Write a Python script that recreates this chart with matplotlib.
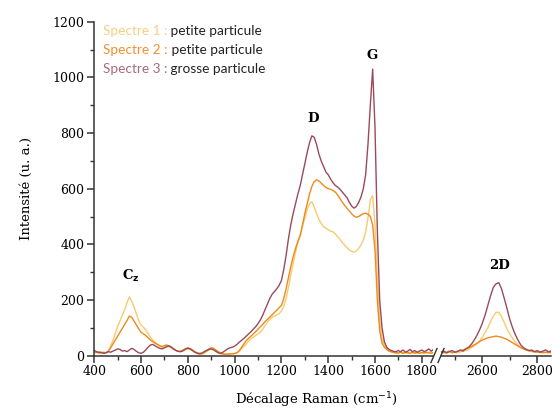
import numpy as np
import matplotlib
matplotlib.use("Agg")
import matplotlib.pyplot as plt
from matplotlib.ticker import MultipleLocator

# Raman shift, left part of the broken axis (cm-1)
wn_left = np.arange(400, 1860, 10)
# Raman shift, right part (2D band)
wn_right = np.arange(2450, 2860, 10)

s1_left = [14, 12, 9, 11, 8, 10, 15, 35, 55, 80,
           105, 125, 145, 165, 190, 211, 195, 175, 150, 125,
           110, 102, 92, 80, 66, 56, 48, 40, 33, 30,
           30, 34, 32, 28, 22, 18, 15, 14, 16, 20,
           24, 22, 18, 12, 8, 6, 5, 8, 14, 20,
           24, 22, 16, 10, 6, 5, 4, 5, 6, 7,
           8, 10, 16, 25, 33, 42, 52, 60, 66, 72,
           78, 84, 95, 108, 120, 130, 137, 142, 146, 150,
           160, 178, 205, 245, 290, 330, 370, 405, 435, 465,
           495, 525, 545, 553, 535, 510, 490, 475, 463, 458,
           452, 448, 445, 438, 428, 418, 407, 398, 388, 380,
           375, 372, 376, 385, 398, 415, 445, 495, 560, 575,
           470, 280, 130, 65, 38, 25, 18, 14, 12, 10,
           10, 12, 8, 11, 9, 12, 10, 8, 11, 9,
           10, 12, 9, 11, 13, 10]
s2_left = [12, 10, 14, 9, 12, 10, 16, 28, 42, 56,
           70, 84, 98, 112, 126, 142, 138, 124, 110, 96,
           84, 78, 72, 64, 56, 50, 44, 40, 36, 32,
           36, 38, 34, 28, 22, 18, 15, 16, 20, 24,
           28, 25, 20, 14, 10, 8, 9, 12, 18, 24,
           28, 26, 20, 14, 9, 6, 5, 5, 6, 6,
           7, 10, 18, 30, 42, 54, 62, 70, 78, 86,
           95, 104, 112, 122, 130, 138, 146, 155, 163, 172,
           180, 205, 240, 280, 320, 355, 385, 410, 430, 470,
           510, 545, 580, 608, 625, 632, 628, 620, 612, 605,
           600, 598, 594, 588, 578, 565, 552, 540, 530, 520,
           510, 502, 497, 500, 505, 510, 512, 508, 500, 470,
           380, 200, 90, 45, 30, 22, 16, 13, 11, 10,
           9, 12, 8, 11, 10, 8, 12, 9, 11, 8,
           11, 9, 12, 10, 8, 11]
s3_left = [18, 14, 10, 12, 8, 10, 14, 12, 16, 20,
           24, 22, 16, 18, 14, 20, 26, 22, 15, 10,
           8, 12, 20, 30, 38, 40, 35, 30, 26, 24,
           28, 32, 35, 30, 24, 18, 15, 14, 18, 24,
           26, 24, 18, 12, 8, 6, 8, 14, 18, 22,
           24, 20, 15, 10, 8, 12, 18, 24, 28, 30,
           34, 40, 48, 55, 62, 70, 78, 86, 95, 104,
           115, 128, 145, 165, 185, 205, 220, 230, 240, 252,
           270, 310, 360, 420, 470, 510, 545, 580, 610, 650,
           690, 730, 765, 790, 785, 760, 725, 700, 680, 660,
           650, 635, 622, 612, 606, 598, 588, 578, 568, 552,
           538, 530, 536, 550, 570, 600, 650, 760, 900, 1030,
           820, 450, 200, 100, 50, 30, 22, 18, 15, 14,
           18, 14, 20, 12, 16, 22, 14, 18, 12, 16,
           20, 14, 18, 24, 16, 22]

s1_right = [10, 12, 8, 14, 10, 12, 9, 13, 16, 18,
            22, 28, 35, 42, 52, 66, 82, 100, 122, 142,
            155, 156, 140, 118, 95, 78, 62, 48, 38, 30,
            24, 20, 16, 14, 12, 14, 10, 12, 11, 10,
            12]
s2_right = [14, 10, 12, 16, 10, 13, 15, 18, 20, 24,
            28, 32, 38, 44, 50, 56, 60, 64, 66, 68,
            70, 68, 66, 62, 58, 52, 46, 40, 34, 28,
            24, 20, 18, 16, 14, 12, 14, 10, 12, 11,
            10]
s3_right = [12, 16, 10, 14, 18, 12, 15, 20, 16, 24,
            30, 40, 55, 72, 92, 116, 145, 180, 215, 245,
            258, 262, 240, 205, 168, 130, 100, 75, 55, 38,
            28, 22, 18, 20, 14, 18, 12, 16, 20, 14,
            16]

colors = ['#F7CB6E', '#EE8A1A', '#9A4A5C']
legend_colors = ['#F5CF85', '#EE9030', '#A56E78']
legend_labels = ['Spectre 1 :', 'Spectre 2 :', 'Spectre 3 :']
legend_desc = [' petite particule', ' petite particule', ' grosse particule']

serif = 'DejaVu Serif'
plt.rcParams['font.family'] = serif
plt.rcParams['font.size'] = 9

fig = plt.figure(figsize=(5.52, 4.12), dpi=100)
ax = fig.add_axes([0.1708, 0.137, 0.6145, 0.810])
ax2 = fig.add_axes([0.799, 0.137, 0.1993, 0.810])

for y, c in zip([s1_left, s2_left, s3_left], colors):
    ax.plot(wn_left, y, color=c, lw=1.0)
for y, c in zip([s1_right, s2_right, s3_right], colors):
    ax2.plot(wn_right, y, color=c, lw=1.0)

ax.set_xlim(400, 1850)
ax2.set_xlim(2450, 2850)
for a in (ax, ax2):
    a.set_ylim(0, 1200)
    a.spines['top'].set_visible(False)
    a.spines['right'].set_visible(False)
    a.spines['bottom'].set_linewidth(1.1)
    a.spines['left'].set_linewidth(1.1)
    a.spines['bottom'].set_color('#333333')
    a.spines['left'].set_color('#333333')
    a.xaxis.set_major_locator(MultipleLocator(200))
    a.xaxis.set_minor_locator(MultipleLocator(100))
    a.yaxis.set_major_locator(MultipleLocator(200))
    a.yaxis.set_minor_locator(MultipleLocator(100))
    a.tick_params(which='major', direction='out', length=5, width=1.1, color='#333333', labelsize=9, pad=2)
    a.tick_params(which='minor', direction='out', length=3, width=1.0, color='#333333')
ax2.spines['left'].set_visible(False)
ax2.tick_params(axis='y', which='both', left=False, labelleft=False)

# break marks
for xp in (434, 441):
    fig.lines.append(plt.Line2D([(xp - 3) / 552, (xp + 3) / 552],
                                [(412 - 355.5 - 7) / 412, (412 - 355.5 + 7) / 412],
                                transform=fig.transFigure, color='#333333', lw=1.0))

ax.set_ylabel('Intensité (u. a.)', fontsize=9.5, labelpad=14)
fig.text(0.573, 0.005, 'Décalage Raman (cm$^{-1}$)', ha='center', va='bottom', fontsize=9.5)

# peak labels
ax.text(555, 258, 'C$_\\mathbf{z}$', ha='center', va='bottom', fontsize=9.5, fontweight='bold')
ax.text(1337, 830, 'D', ha='center', va='bottom', fontsize=9.5, fontweight='bold')
ax.text(1589, 1055, 'G', ha='center', va='bottom', fontsize=9.5, fontweight='bold')
ax2.text(2664, 300, '2D', ha='center', va='bottom', fontsize=9.5, fontweight='bold')

# legend built from coloured text pieces
for i in range(3):
    t = ax.text(0.026, 0.972 - i * 0.057, legend_labels[i], transform=ax.transAxes,
                color=legend_colors[i], fontsize=9.8, family='Lato', va='center')
    ax.annotate(legend_desc[i], xycoords=t, xy=(1, 0.5), va='center',
                color='#222222', fontsize=9.8, family='Lato')

fig.savefig('out.png', dpi=100)
